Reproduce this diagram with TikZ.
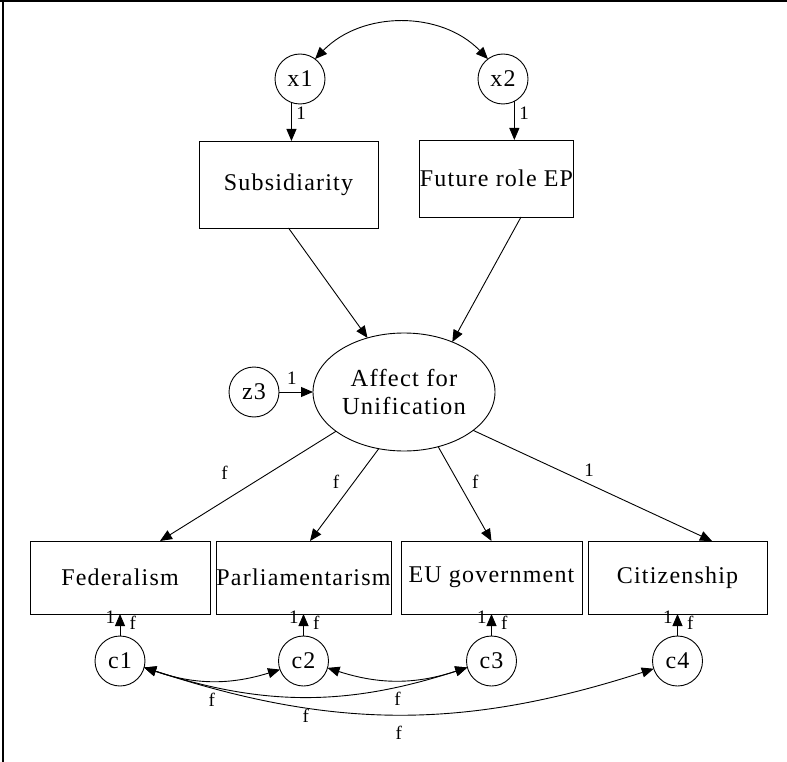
\documentclass[tikz,border=0pt]{standalone}
\usepackage{fontspec}
\setmainfont{Liberation Serif}
\newfontfamily\labelfont[LetterSpace=5]{Liberation Serif}
\usetikzlibrary{arrows.meta,shapes.geometric,calc}

\begin{document}
\begin{tikzpicture}[x=1pt,y=-1pt,
  every node/.style={inner sep=0pt, outer sep=0pt},
  obsvar/.style={draw, rectangle, line width=0.9pt, font=\labelfont\fontsize{24}{28.5}\selectfont},
  errvar/.style={draw, circle, minimum size=50pt, line width=0.9pt, font=\labelfont\fontsize{24}{28.5}\selectfont},
  latvar/.style={draw, ellipse, minimum width=182pt, minimum height=118pt, line width=0.9pt, align=center, font=\labelfont\fontsize{24.5}{28.5}\selectfont},
  tag/.style={font=\fontsize{19}{20}\selectfont, inner sep=0pt},
  oneway/.style={line width=0.9pt, -{Triangle[length=12pt,width=10pt]}},
  twoway/.style={line width=0.9pt, {Triangle[length=12pt,width=10pt]}-{Triangle[length=12pt,width=10pt]}},
]
\useasboundingbox (0,0) rectangle (787,762);
% frame lines on the top and left
\draw[line width=2.5pt] (0,1.2) -- (787,1.2);
\draw[line width=2.5pt] (3,0) -- (3,762);

% exogenous error terms and predictors
\node[errvar] (x1) at (300,79) {x1};
\node[errvar] (x2) at (503,79) {x2};
\node[obsvar, minimum width=179pt, minimum height=87pt] (sub) at (288.5,184.5) {Subsidiarity};
\node[obsvar, minimum width=137pt, minimum height=77pt] (fut) at (496.5,178.5) {Future role EP};

% latent factor with its disturbance
\node[latvar] (aff) at (404,392) {Affect for\\Unification};
\node[errvar] (z3) at (254,392) {z3};

% indicators
\node[obsvar, minimum width=180pt, minimum height=73pt] (fed) at (120,577.5) {Federalism};
\node[obsvar, minimum width=175pt, minimum height=73pt] (par) at (303.5,577.5) {Parliamentarism};
\node[obsvar, minimum width=181pt, minimum height=73pt] (eug) at (491.5,577.5) {EU government};
\node[obsvar, minimum width=179pt, minimum height=73pt] (cit) at (677.5,577.5) {Citizenship};

% indicator errors
\node[errvar] (c1) at (120,661) {c1};
\node[errvar] (c2) at (303.5,661) {c2};
\node[errvar] (c3) at (491.5,661) {c3};
\node[errvar] (c4) at (677.5,661) {c4};

% top part
\draw[twoway] (x1.53) to[bend left=46] (x2.127);
\draw[oneway] (x1.250) -- (x1.250 |- sub.north) node[tag, pos=0.28, right=5pt] {1};
\draw[oneway] (x2.297) -- (x2.297 |- fut.north) node[tag, pos=0.3, right=5pt] {1};
\draw[oneway] (sub.south) -- (aff.124);
\draw[oneway] ([xshift=24.5pt]fut.south) -- (aff.46.5);
\draw[oneway] (z3.east) -- (aff.west) node[tag, pos=0.38, above=8pt] {1};

% loadings
\draw[oneway] (aff.210.7) -- ([xshift=40pt]fed.north)
  node[tag, pos=0.562, xshift=-12.5pt, yshift=20pt] {f};
\draw[oneway] (aff.246.9) -- ([xshift=6.5pt]par.north)
  node[tag, pos=0.451, xshift=-11.6pt, yshift=8.7pt] {f};
\draw[oneway] (aff.302.9) -- (eug.north)
  node[tag, pos=0.45, xshift=13.2pt, yshift=7.3pt] {f};
\draw[oneway] (aff.331.6) -- ([xshift=34.5pt]cit.north)
  node[tag, pos=0.463, xshift=5.3pt, yshift=11.2pt] {1};

% error paths into the indicators
\foreach \e/\v in {c1/fed, c2/par, c3/eug, c4/cit}{
  \draw[oneway] (\e.north) -- (\e.north |- \v.south)
    node[tag, pos=0.86, left=5pt] {1}
    node[tag, pos=0.59, right=9.5pt] {f};
}

% error covariances
\draw[twoway] (c1.345) to[bend right=18] node[tag, below=12pt] {f} (c2.200);
\draw[twoway] (c2.344) to[bend right=18] node[tag, below=12pt] {f} (c3.195);
\draw[twoway] (c1.345) to[bend right=18] node[tag, below=12pt] {f} (c3.195);
\draw[twoway] (c1.345) to[bend right=18] node[tag, below=12pt] {f} (c4.198);
\end{tikzpicture}
\end{document}
